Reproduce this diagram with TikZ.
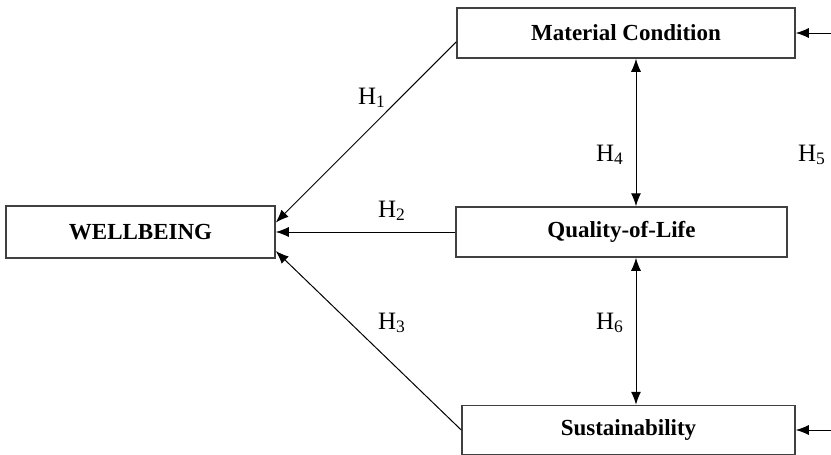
\documentclass[tikz,border=0pt]{standalone}
\usepackage{fontspec}
\setmainfont{Liberation Serif}
\usetikzlibrary{arrows.meta}

\begin{document}
\begin{tikzpicture}
[x=.5pt,y=-.5pt,
box/.style={draw=black!75,line width=.75pt,inner sep=0pt,font=\fontsize{11.5}{14}\selectfont\bfseries},
lbl/.style={font=\fontsize{12.5}{14}\selectfont},
link/.style={line width=.5pt},
>={Latex[length=6.5pt,width=5pt]}]
\useasboundingbox (0,0) rectangle (831,455);

\node[box,minimum width=134.5pt,minimum height=26pt] (wb) at (140.5,232) {WELLBEING};
\node[box,minimum width=169pt,minimum height=25pt] (mat) at (626,33) {Material Condition};
\node[box,minimum width=165.5pt,minimum height=25pt] (qol) at (621.5,232) {Quality-of-Life};
\node[box,minimum width=166.5pt,minimum height=24.5pt] (sus) at (628.5,430) {Sustainability};

\node[lbl] (h1) at (372,98) {H\textsubscript{1}};
\node[lbl] (h2) at (392,211) {H\textsubscript{2}};
\node[lbl] (h3) at (392,323) {H\textsubscript{3}};
\node[lbl] (h4) at (610,155) {H\textsubscript{4}};
\node[lbl] (h5) at (812,155) {H\textsubscript{5}};
\node[lbl] (h6) at (610,323) {H\textsubscript{6}};

\coordinate (v) at (636,0);
\coordinate (m5) at (831,33);
\coordinate (s5) at (831,430);

\foreach \from/\to in {mat.183/wb.4,qol.west/wb.east,sus.west/wb.-8,m5/mat.east,s5/sus.east}
\draw[link,->] (\from) -- (\to);
\draw[link,<->] (mat.south -| v) -- (qol.north -| v);
\draw[link,<->] (qol.south -| v) -- (sus.north -| v);
\end{tikzpicture}
\end{document}
